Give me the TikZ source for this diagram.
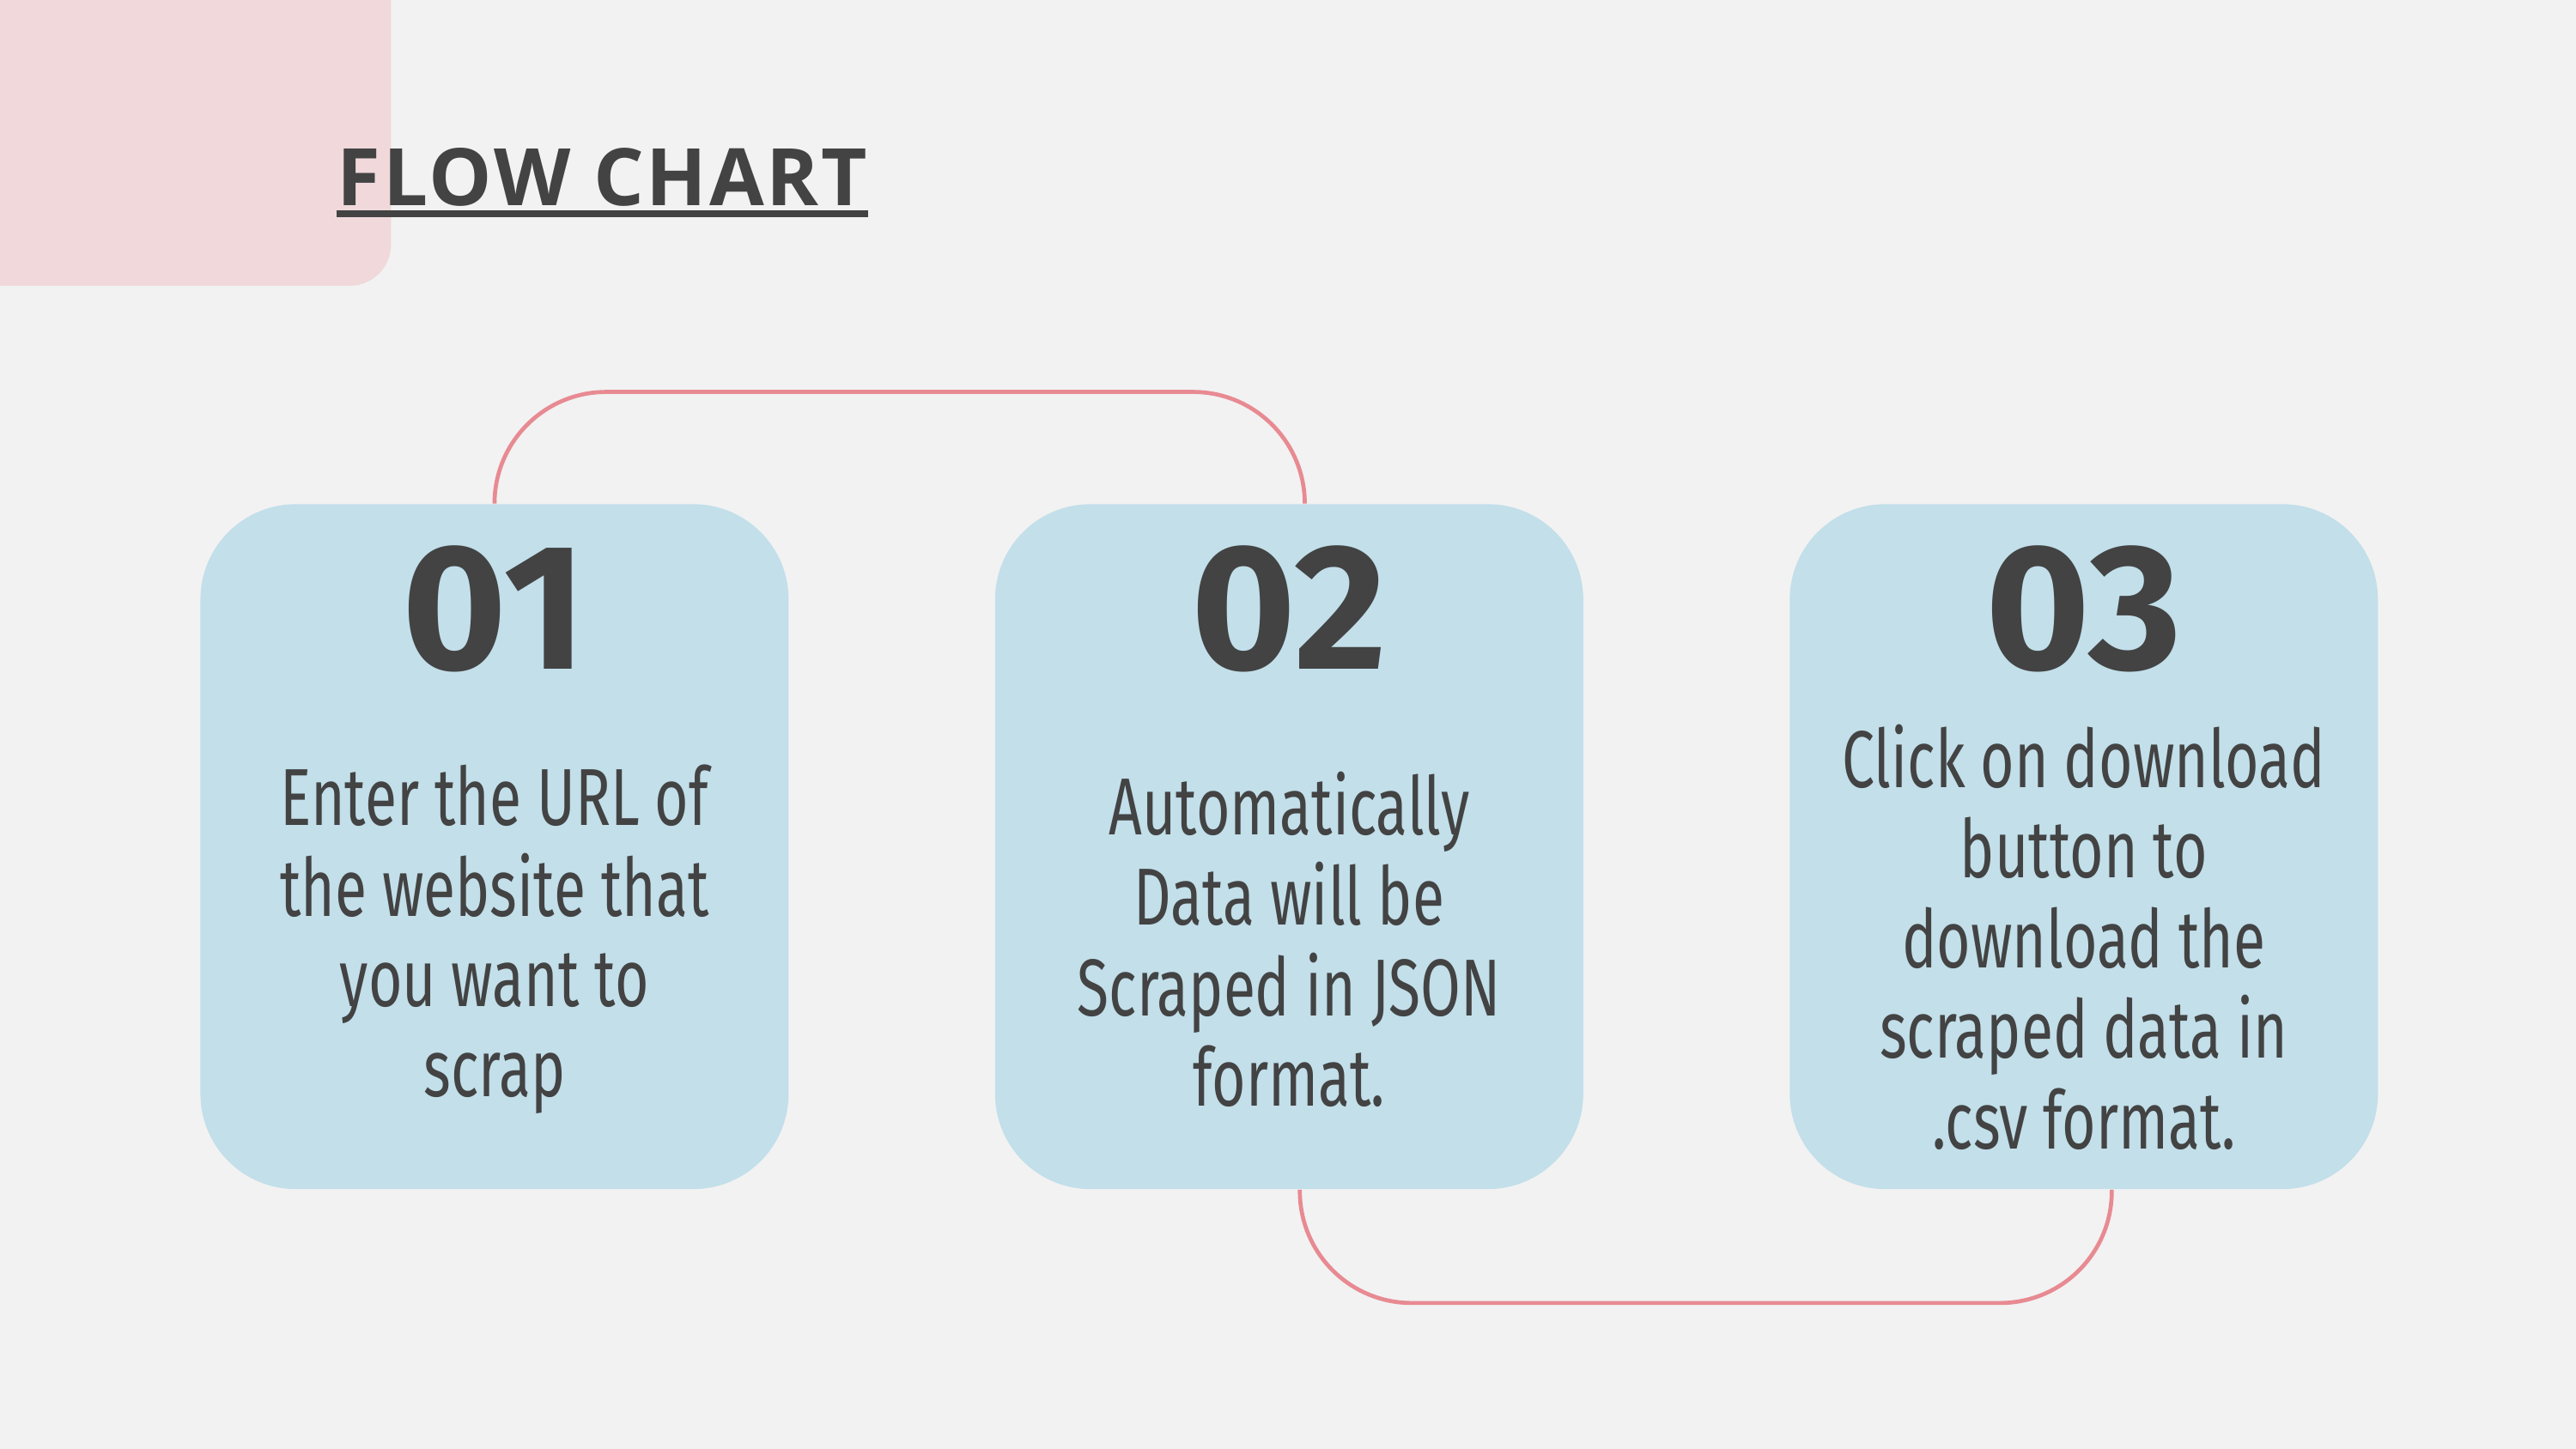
\documentclass[tikz,border=0pt]{standalone}
\usepackage{fontspec}
\setmainfont{Fira Sans}
\newfontfamily\titlefont[LetterSpace=3]{Open Sans}
\newfontfamily\bodyfont[FakeStretch=0.72]{Fira Sans}
\usetikzlibrary{positioning}

\definecolor{paper}{HTML}{F2F2F2}
\definecolor{blush}{HTML}{F0D8DB}
\definecolor{sky}{HTML}{C2DFEA}
\definecolor{ink}{HTML}{434343}
\definecolor{rose}{HTML}{E88A92}

\begin{document}
\begin{tikzpicture}[
	stepbox/.style = {fill = sky, draw = none, rounded corners = 1.16cm, minimum width = 7.16cm, minimum height = 8.34cm, inner sep = 0},
	number/.style = {text = ink, font = \fontsize{62}{62}\selectfont\bfseries, inner sep = 0, anchor = base},
	body/.style = {text = ink, font = \fontsize{28}{31.3}\selectfont\bodyfont, align = center, inner sep = 0},
	link/.style = {draw = rose, line width = 1.4pt, rounded corners = 1.36cm}
]

	% Page + corner patch

	\fill [paper] (0, 0) rectangle (31.36, 17.64);
	\useasboundingbox (0, 0) rectangle (31.36, 17.64);
	\clip (0, 0) rectangle (31.36, 17.64);

	\fill [blush, rounded corners = 0.5cm] (-1, 14.16) rectangle (4.76, 18.5);

	% Title

	\node (title) [anchor = base west, inner sep = 0, text = ink, font = \fontsize{27.5}{27.5}\selectfont\titlefont\bfseries] at (4.1, 15.14) {FLOW CHART};
	\draw [ink, line width = 0.08cm] ([yshift = -0.1cm] title.base west) -- ([yshift = -0.1cm] title.base east);

	% Steps

	\node (b1) [stepbox] at (6.02, 7.33) {};
	\node (b2) [stepbox, right = 2.5cm of b1] {};
	\node (b3) [stepbox, right = 2.5cm of b2] {};

	\node (n1) [number] at ([yshift = -2.02cm] b1.north) {01};
	\node (n2) [number] at ([yshift = -2.02cm] b2.north) {02};
	\node (n3) [number] at ([yshift = -2.02cm] b3.north) {03};

	\node (t1) [body] at ([yshift = -1.13cm] b1.center) {Enter the URL of\\the website that\\you want to\\scrap};
	\node (t2) [body] at ([yshift = -1.13cm] b2.center) {Automatically\\Data will be\\Scraped in JSON\\format.};
	\node (t3) [body] at ([yshift = -1.1cm] b3.center) {Click on download\\button to\\download the\\scraped data in\\.csv format.};

	% Connectors

	\coordinate (up) at ([yshift = 1.36cm] b1.north);
	\coordinate (down) at ([xshift = 0.13cm, yshift = -1.38cm] b2.south);

	\draw [link] (b1.north) -- (up) -| ([xshift = 0.19cm] b2.north);
	\draw [link] ([xshift = 0.13cm] b2.south) -- (down) -| ([xshift = 0.34cm] b3.south);

\end{tikzpicture}
\end{document}
